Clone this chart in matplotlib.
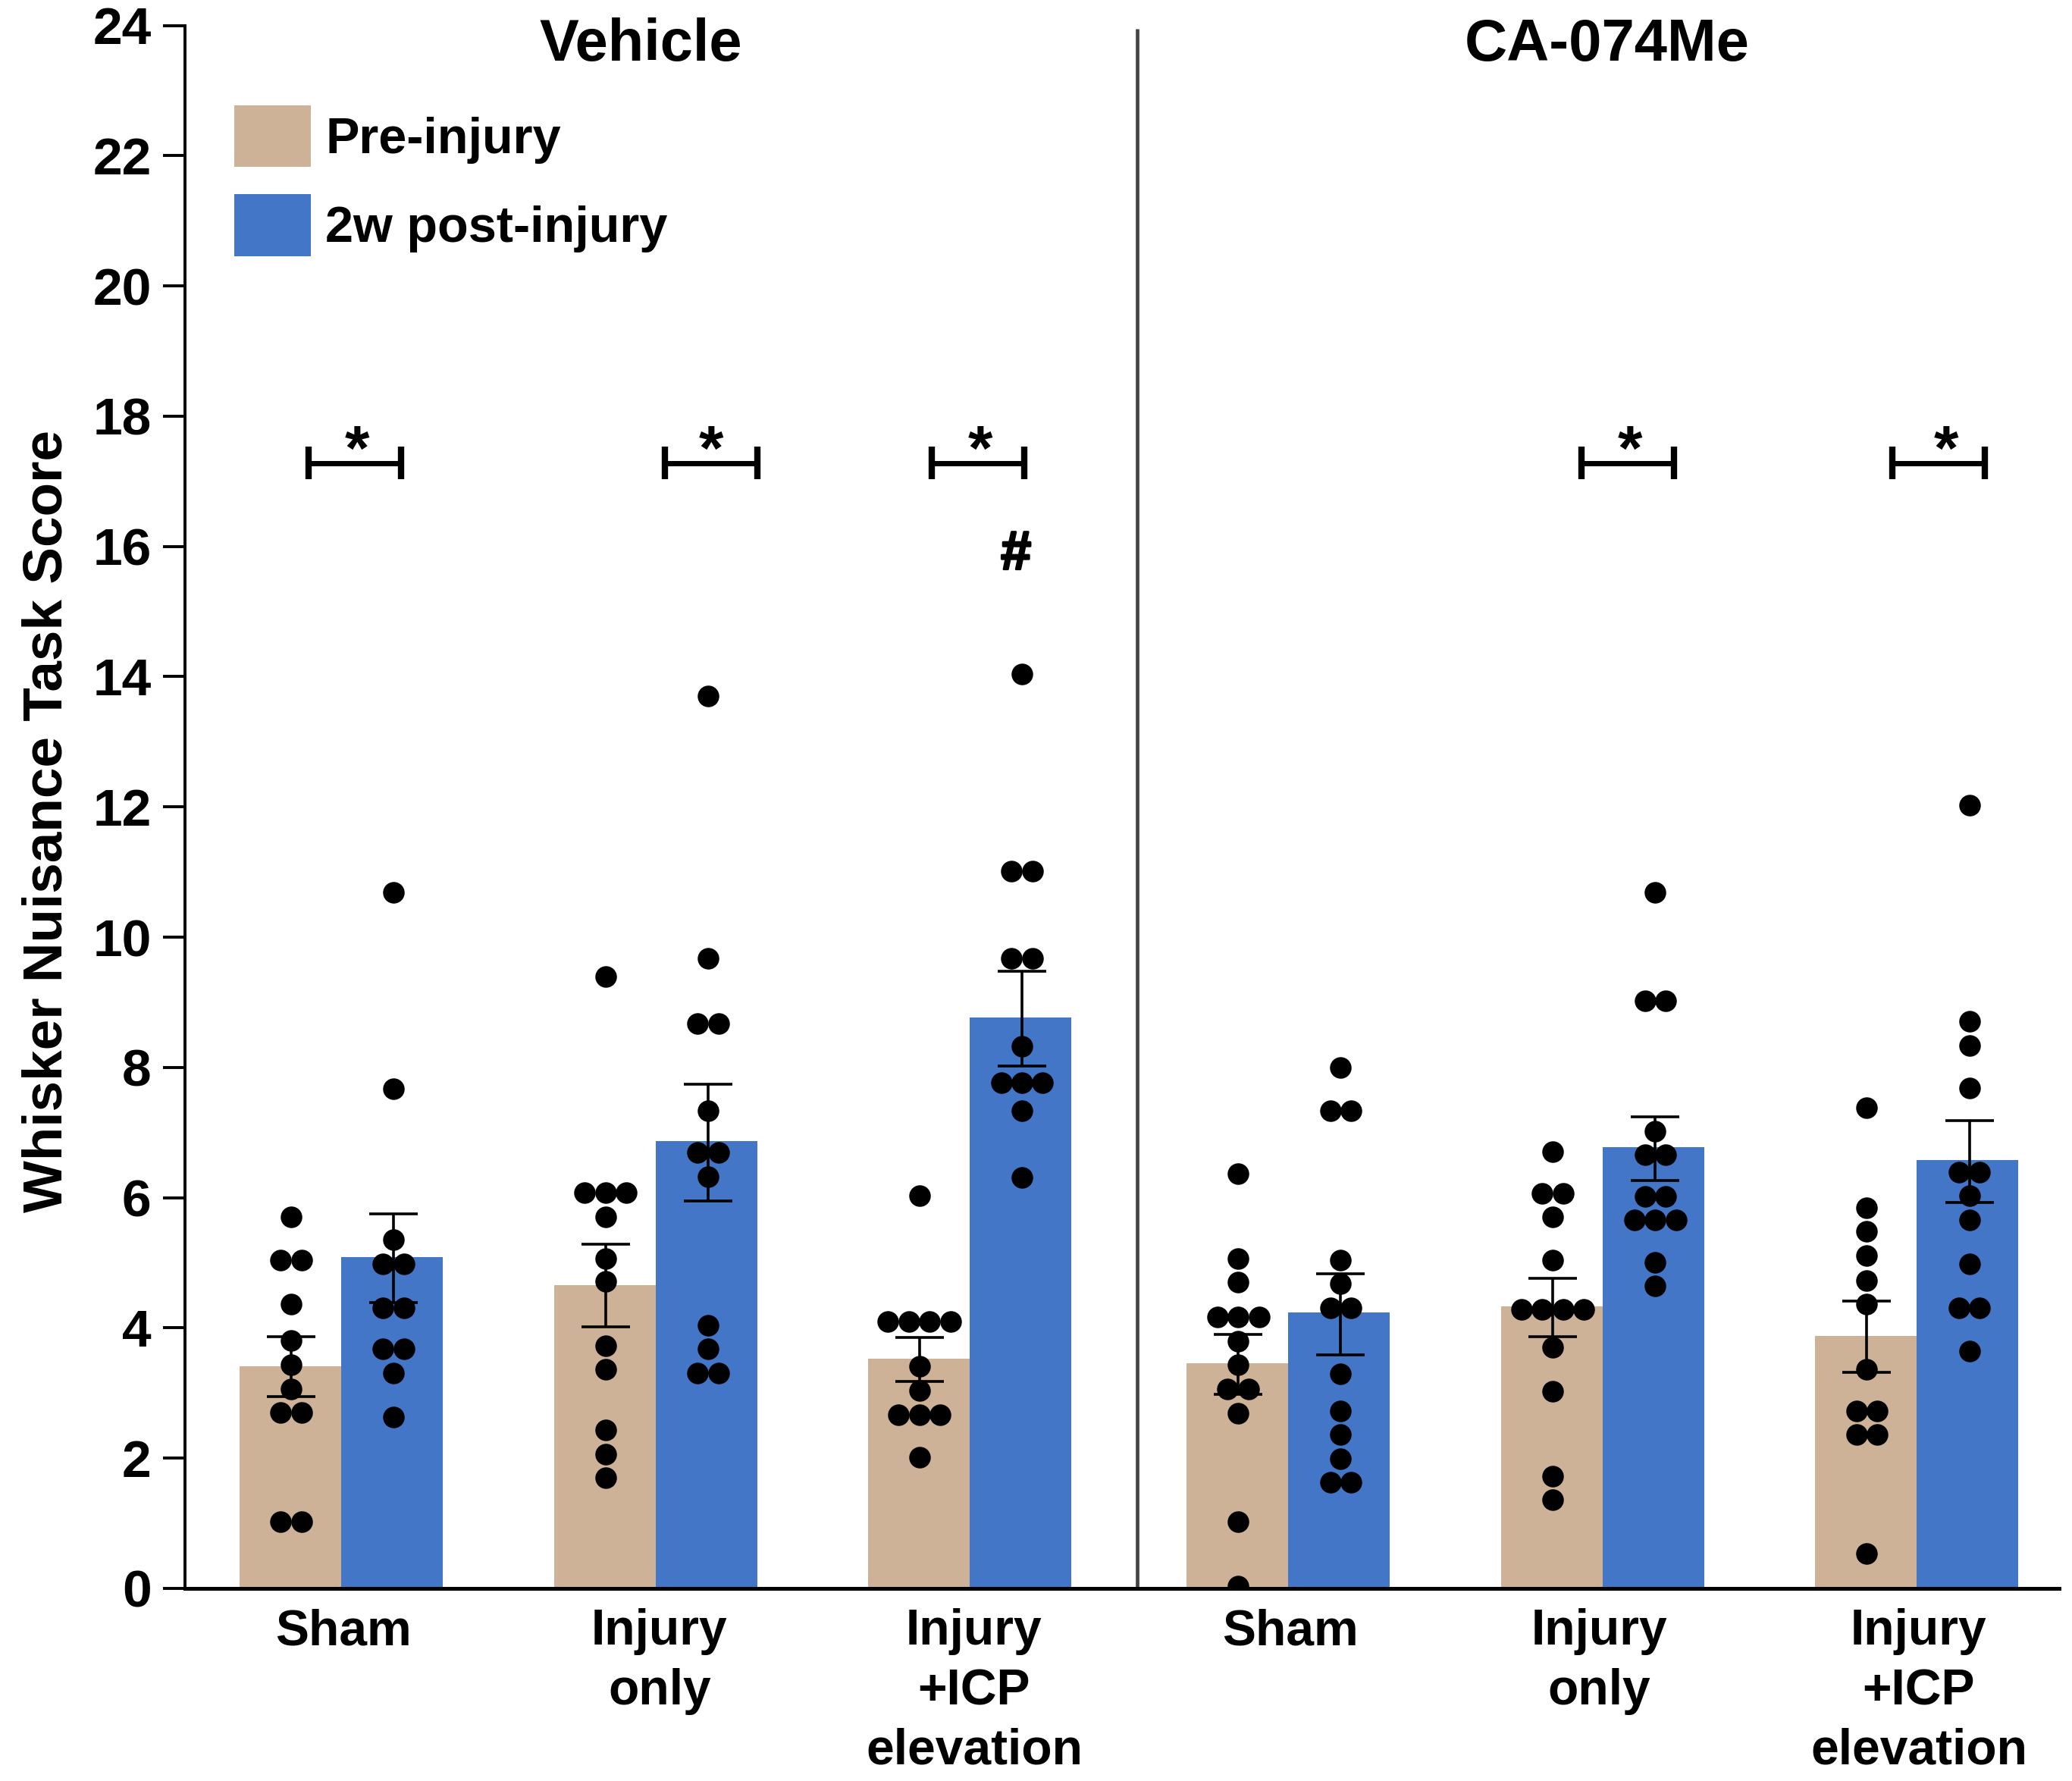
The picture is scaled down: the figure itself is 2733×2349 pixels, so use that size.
import matplotlib
matplotlib.use("Agg")
import matplotlib.pyplot as plt
import matplotlib.patheffects as pe
from collections import Counter

plt.rcParams['font.family'] = ['Liberation Sans', 'DejaVu Sans']
plt.rcParams['font.weight'] = 'bold'

TAN = '#CDB297'
BLUE = '#4476C8'

group_x = [0, 1, 1.997, 3.01, 4.01, 5.008]
label_x = [0.007, 1.012, 2.012, 3.018, 3.998, 5.014]
group_labels = ['Sham', 'Injury\nonly', 'Injury\n+ICP\nelevation',
                'Sham', 'Injury\nonly', 'Injury\n+ICP\nelevation']

pre_mean = [3.41, 4.66, 3.53, 3.46, 4.33, 3.88]
pre_upper = [3.87, 5.28, 3.85, 3.90, 4.76, 4.41]
pre_lower = [2.94, 4.02, 3.18, 2.98, 3.86, 3.32]

post_mean = [5.09, 6.87, 8.77, 4.24, 6.77, 6.58]
post_upper = [5.75, 7.74, 9.48, 4.83, 7.24, 7.18]
post_lower = [4.39, 5.95, 8.02, 3.59, 6.26, 5.93]

veh_sham_pre = [5.71, 5.04, 5.04, 4.37, 3.81, 3.43, 3.06, 2.70, 2.70, 1.02, 1.02]
veh_sham_post = [10.69, 7.67, 5.36, 4.98, 4.98, 4.31, 4.31, 3.68, 3.68, 3.31, 2.63]
veh_inj_pre = [9.39, 6.08, 6.08, 6.08, 5.71, 5.07, 4.71, 3.73, 3.37, 2.43, 2.06, 1.70]
veh_inj_post = [13.70, 9.68, 8.67, 8.67, 7.33, 6.69, 6.69, 6.32, 4.04, 3.68, 3.31, 3.31]
veh_icp_pre = [6.03, 4.10, 4.10, 4.10, 4.10, 3.41, 3.04, 2.67, 2.67, 2.67, 2.01]
veh_icp_post = [14.04, 11.01, 11.01, 9.67, 9.67, 8.32, 7.76, 7.76, 7.76, 7.33, 6.31]
ca_sham_pre = [6.37, 5.07, 4.70, 4.17, 4.17, 4.17, 3.80, 3.43, 3.06, 3.06, 2.69, 1.02, 0.04]
ca_sham_post = [8.0, 7.33, 7.33, 5.04, 4.68, 4.31, 4.31, 3.30, 2.73, 2.36, 1.99, 1.63, 1.63]
ca_inj_pre = [6.70, 6.07, 6.07, 5.70, 5.04, 4.28, 4.28, 4.28, 4.28, 3.70, 3.03, 1.72, 1.36]
ca_inj_post = [10.69, 9.02, 9.02, 7.02, 6.66, 6.66, 6.02, 6.02, 5.66, 5.66, 5.66, 5.01, 4.64]
ca_icp_pre = [7.38, 5.85, 5.48, 5.11, 4.73, 4.37, 3.37, 2.73, 2.73, 2.36, 2.36, 0.53]
ca_icp_post = [12.03, 8.71, 8.34, 7.68, 6.39, 6.39, 6.03, 5.66, 4.98, 4.31, 4.31, 3.64]

pre_points = [veh_sham_pre, veh_inj_pre, veh_icp_pre, ca_sham_pre, ca_inj_pre, ca_icp_pre]
post_points = [veh_sham_post, veh_inj_post, veh_icp_post, ca_sham_post, ca_inj_post, ca_icp_post]

bracket_x = [0.043, 1.176, 2.024, 4.089, 5.077]
star_x = [0.05, 1.176, 2.032, 4.097, 5.1]
bracket_y = 17.28

BAR_W = 0.323
DOT_STEP = 0.0662


def swarm(center, values):
    """
Spread dots with the same value side by side around center.
"""
    xs, ys = [], []
    for value, count in Counter(values).items():
        start = center - DOT_STEP * (count - 1) / 2
        for i in range(count):
            xs.append(start + i * DOT_STEP)
            ys.append(value)
    return xs, ys


def draw_bars(ax, xs, means, uppers, lowers, points, color, side, dot_off, label):
    """
Draw one series: bars, error bars and the animal dots.
"""
    ax.bar(xs, means, width=side * BAR_W, align='edge', color=color,
           linewidth=0, label=label, zorder=1)
    centers = [x + dot_off for x in xs]
    err = [[m - lo for m, lo in zip(means, lowers)],
           [up - m for m, up in zip(means, uppers)]]
    ax.errorbar(centers, means, yerr=err, fmt='none', ecolor='black',
                elinewidth=2.6, capsize=23, capthick=2.6, zorder=2)
    for center, values in zip(centers, points):
        dots_x, dots_y = swarm(center, values)
        ax.scatter(dots_x, dots_y, s=420, color='black', linewidths=0, zorder=3)


def main():
    fig = plt.figure(figsize=(27.33, 23.49), dpi=100)
    ax = fig.add_axes([244 / 2733, 254 / 2349, 2472 / 2733, 2061.5 / 2349])

    draw_bars(ax, group_x, pre_mean, pre_upper, pre_lower, pre_points,
              TAN, -1, -0.159, 'Pre-injury')
    draw_bars(ax, group_x, post_mean, post_upper, post_lower, post_points,
              BLUE, 1, 0.167, '2w post-injury')

    ax.set_xlim(-0.496, 5.46)
    ax.set_ylim(0, 24)
    ax.spines['top'].set_visible(False)
    ax.spines['right'].set_visible(False)
    ax.spines['left'].set_linewidth(2.8)
    ax.spines['bottom'].set_linewidth(3.6)
    ax.spines['bottom'].set_zorder(5)

    ax.set_yticks(range(0, 25, 2))
    ax.tick_params(axis='y', length=21, width=2.8, pad=11, labelsize=50)
    ax.set_xticks(label_x)
    ax.set_xticklabels(group_labels, fontsize=47.5, linespacing=1.35)
    ax.tick_params(axis='x', length=0, pad=19)

    ax.set_ylabel('Whisker Nuisance Task Score', fontsize=52.5, fontweight='bold',
                  va='center')
    ax.yaxis.set_label_coords(-0.0735, 0.491)

    # divider between the two treatments
    ax.vlines(2.53, 0, 23.95, color='#444444', linewidth=3.4, zorder=2)

    ax.text(0.952, 23.46, 'Vehicle', fontsize=56, ha='center', va='baseline')
    ax.text(4.024, 23.46, 'CA-074Me', fontsize=56, ha='center', va='baseline')

    for x, sx in zip(bracket_x, star_x):
        ax.hlines(bracket_y, x - 0.147, x + 0.147, color='black', linewidth=5)
        ax.vlines([x - 0.147, x + 0.147], bracket_y - 0.25, bracket_y + 0.25,
                  color='black', linewidth=6)
        ax.text(sx, 17.17, '*', fontsize=60, ha='center', va='baseline')
    ax.text(2.145, 15.65, '#', fontsize=52, ha='center', va='baseline',
            path_effects=[pe.withStroke(linewidth=2, foreground='black')])

    ax.legend(loc='upper left', bbox_to_anchor=(0.0263, 0.949), frameon=False,
              fontsize=48, handlelength=1.515, handleheight=1.51,
              handletextpad=0.29, labelspacing=0.54, borderpad=0, borderaxespad=0)

    fig.savefig('out.png', dpi=100)


if __name__ == "__main__":
    main()
